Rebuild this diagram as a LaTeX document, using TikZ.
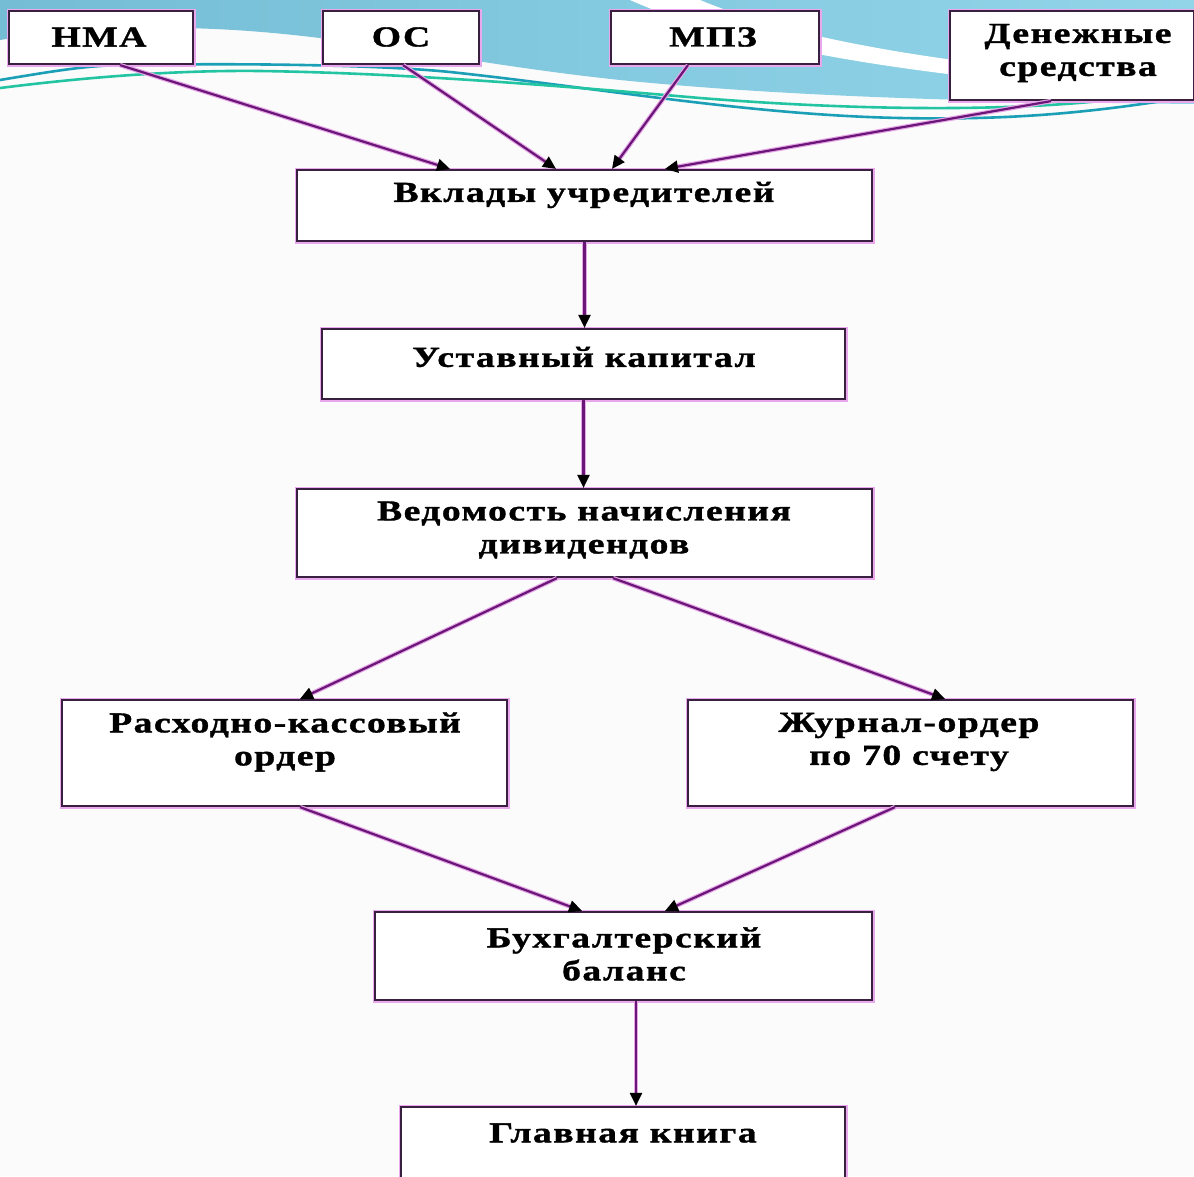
\documentclass[tikz,border=0pt]{standalone}
\usepackage{fontspec}
\setmainfont{Liberation Serif}[FakeStretch=1.3,LetterSpace=5,FakeBold=1.2]
\usetikzlibrary{arrows.meta}
\definecolor{bgc}{HTML}{FBFBFB}
\definecolor{blueL}{HTML}{74BDD5}
\definecolor{blueR}{HTML}{92D5E9}
\definecolor{tealln}{HTML}{1A9FB6}
\definecolor{greenln}{HTML}{22C4A2}
\definecolor{boxline}{HTML}{3A2040}
\definecolor{boxglow}{HTML}{E9A8EC}
\definecolor{arrln}{HTML}{6A1678}
\definecolor{arrglow}{HTML}{E6A6E6}
\tikzset{
  boxn/.style={rectangle, draw=boxline, line width=2.2pt, fill=white, inner sep=0pt,
    preaction={draw=boxglow, line width=5pt}},
  lbl/.style={font=\fontsize{29}{33}\selectfont\bfseries, align=center, inner sep=0pt},
  flow/.style={draw=arrln, line width=2.2pt,
    -{Triangle[length=13pt,width=12pt,color=black]},
    preaction={draw=arrglow, line width=4.5pt, arrows=-, shorten >=10pt}}
}
\begin{document}
\begin{tikzpicture}[x=1pt,y=-1pt]
\useasboundingbox (0,0) rectangle (1194,1176);
\clip (0,0) rectangle (1194,1176);
\fill[bgc] (0,0) rectangle (1194,1176);
% top decoration
\shade[left color=blueL, right color=blueR]
  (0,0) -- (1194,0) -- (1194,104)
  .. controls (1000,102) and (800,98) .. (620,80)
  .. controls (450,62) and (330,30) .. (180,28)
  .. controls (90,28) and (30,35) .. (0,40) -- cycle;
\fill[white] (700,0) .. controls (760,25) and (850,48) .. (1000,66)
  -- (1000,80) .. controls (850,64) and (720,40) .. (630,0) -- cycle;
\draw[tealln, line width=2.6pt] (0,80) .. controls (60,70) and (90,65) .. (130,65)
  .. controls (250,63) and (380,65) .. (450,72)
  .. controls (600,88) and (750,115) .. (900,118)
  .. controls (1000,120) and (1080,115) .. (1194,96);
\draw[greenln, line width=2.6pt] (0,88) .. controls (80,78) and (170,70) .. (260,71)
  .. controls (400,73) and (550,85) .. (700,98)
  .. controls (850,110) and (1000,112) .. (1110,100);
% boxes
\node[boxn, minimum width=184pt, minimum height=53pt] (nma) at (101,37.5) {};
\node[boxn, minimum width=156pt, minimum height=53pt] (os) at (401,37.5) {};
\node[boxn, minimum width=208pt, minimum height=53pt] (mpz) at (715,37.5) {};
\node[boxn, minimum width=244pt, minimum height=89pt] (den) at (1072,55.5) {};
\node[boxn, minimum width=575pt, minimum height=71pt] (vk) at (584.5,205.5) {};
\node[boxn, minimum width=523pt, minimum height=70pt] (ust) at (583.5,364) {};
\node[boxn, minimum width=575pt, minimum height=88pt] (ved) at (584.5,533) {};
\node[boxn, minimum width=445pt, minimum height=106pt] (rko) at (284.5,753) {};
\node[boxn, minimum width=445pt, minimum height=106pt] (jo) at (910.5,753) {};
\node[boxn, minimum width=497pt, minimum height=88pt] (bb) at (623.5,956) {};
\node[boxn, minimum width=444pt, minimum height=100pt] (gk) at (623,1157) {};
% labels
\node[lbl] (nmat) at (99,37) {НМА};
\node[lbl] (ost) at (401,37) {ОС};
\node[lbl] (mpzt) at (713,37) {МПЗ};
\node[lbl] (dent) at (1078,53) {Денежные\\средства};
\node[lbl] (vkt) at (584,195) {Вклады учредителей};
\node[lbl] (ustt) at (584,357) {Уставный капитал};
\node[lbl] (vedt) at (584,530) {Ведомость начисления\\дивидендов};
\node[lbl] (rkot) at (285,742) {Расходно-кассовый\\ордер};
\node[lbl] (jot) at (909,742) {Журнал-ордер\\по 70 счету};
\node[lbl] (bbt) at (624,954) {Бухгалтерский\\баланс};
\node[lbl] (gkt) at (623,1133) {Главная книга};
% connectors
\draw[flow] ([xshift=19pt]nma.south) -- ([xshift=-134.5pt]vk.north);
\draw[flow] ([xshift=2pt]os.south) -- ([xshift=-28.5pt]vk.north);
\draw[flow] ([xshift=-27pt]mpz.south) -- ([xshift=27.5pt]vk.north);
\draw[flow] ([xshift=-21pt]den.south) -- ([xshift=80.5pt]vk.north);
\draw[flow] (vk.south) -- (vk.south |- ust.north);
\draw[flow] (ust.south) -- (ust.south |- ved.north);
\draw[flow] ([xshift=-27.5pt]ved.south) -- ([xshift=15.5pt]rko.north);
\draw[flow] ([xshift=28.5pt]ved.south) -- ([xshift=34.5pt]jo.north);
\draw[flow] ([xshift=15.5pt]rko.south) -- ([xshift=-41.5pt]bb.north);
\draw[flow] ([xshift=-15.5pt]jo.south) -- ([xshift=41.5pt]bb.north);
\draw[flow] ([xshift=12.5pt]bb.south) -- ([xshift=12.5pt]bb.south |- gk.north);
\end{tikzpicture}
\end{document}
